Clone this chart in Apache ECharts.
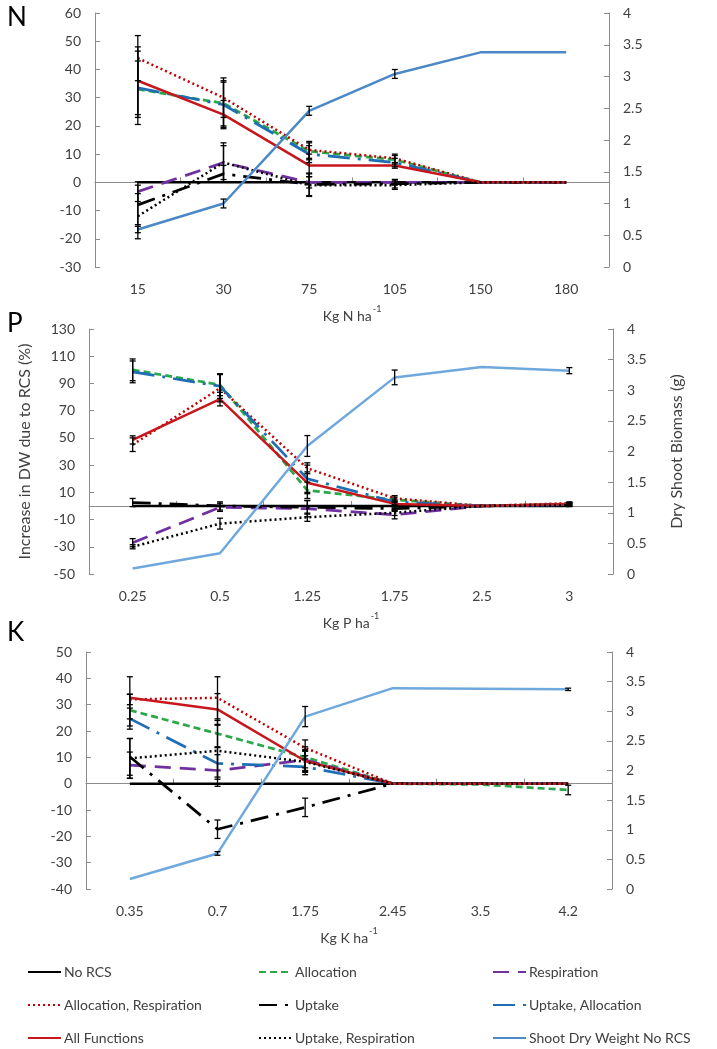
<!DOCTYPE html>
<html><head><meta charset="utf-8">
<script src="https://cdn.jsdelivr.net/npm/echarts@6/dist/echarts.min.js"></script>
<style>html,body{margin:0;padding:0;background:#fff}#c{width:717px;height:1049px}</style>
</head><body><div id="c"></div>
<script>
// ---------- categories ----------
const nCats = ['15','30','75','105','150','180'];
const pCats = ['0.25','0.5','1.25','1.75','2.5','3'];
const kCats = ['0.35','0.7','1.75','2.45','3.5','4.2'];

// ---------- N panel ----------
const nNoRcs      = [0, 0, 0, 0, 0, 0];
const nAlloc      = [33, 28, 11, 8, 0, 0];
const nAllocErr   = [10, 8, 3, 1.5, null, null];
const nResp       = [-3.3, 7, 0, 0, 0, 0];
const nRespErr    = [3.5, 7, 2, 1, null, null];
const nAllocResp  = [44, 30, 11.5, 8.5, 0, 0];
const nAllocRespErr = [8, 7, 3, 1.5, null, null];
const nUptake     = [-8, 3, -0.7, -0.5, 0, 0];
const nUptakeErr  = [7, 3, 4, 1.5, null, null];
const nUptAlloc   = [33.5, 27.5, 10, 7, 0, 0];
const nUptAllocErr = [13, 8, 3, 1.5, null, null];
const nAllFun     = [36, 24, 6, 6, 0, 0];
const nAllFunErr  = [12, 5, 4, 1, null, null];
const nUptResp    = [-12, 7, -1, -1, 0, 0];
const nUptRespErr = [8, 6, 4, 1.5, null, null];
const nShoot      = [0.59, 1.0, 2.46, 3.04, 3.38, 3.38];
const nShootErr   = [0.05, 0.07, 0.07, 0.07, null, null];

// ---------- P panel ----------
const pNoRcs      = [0, 0, 0, 0, 0, 0];
const pAlloc      = [100, 89, 11.5, 4.5, 0, 1.5];
const pAllocErr   = [8, 8, 6, 2, null, 1];
const pResp       = [-27, -1, -2, -6.5, 0, 1];
const pRespErr    = [3, 3, 6, 3, null, 1];
const pAllocResp  = [45, 86.5, 27.7, 5.6, 0, 2];
const pAllocRespErr = [5, 10, 4, 2, null, 1];
const pUptake     = [2.5, 0, -1, -2, 0, 1];
const pUptakeErr  = [3, 3, 5, 2, null, 1];
const pUptAlloc   = [98.5, 88, 20, 3, 0, 1];
const pUptAllocErr = [8, 9, 10, 2, null, 1];
const pAllFun     = [48.5, 78.5, 17, 1.5, 0, 1.5];
const pAllFunErr  = [3, 5, 8, 2, null, 1];
const pUptResp    = [-30, -13, -8.3, -5, 0, 0.5];
const pUptRespErr = [1.5, 4, 3, 2, null, 1];
const pShoot      = [0.09, 0.34, 2.09, 3.21, 3.38, 3.32];
const pShootErr   = [null, null, 0.17, 0.12, null, 0.05];

// ---------- K panel ----------
const kNoRcs      = [0, 0, 0, 0, 0, 0];
const kAlloc      = [27.9, 19, 10, 0, -0.3, -2.4];
const kAllocErr   = [6, 5, 4, null, null, 1.8];
const kResp       = [7, 5, 9, 0, 0, 0];
const kRespErr    = [5, 6, 4, null, null, null];
const kAllocResp  = [32, 32.6, 13.6, 0, 0, 0];
const kAllocRespErr = [2, 8, 3, null, null, null];
const kUptake     = [10.2, -17.3, -9, 0, 0, 0];
const kUptakeErr  = [7, 3.5, 3.5, null, null, null];
const kUptAlloc   = [24.7, 7.7, 6.4, 0, 0, 0];
const kUptAllocErr = [4, 6, 3, null, null, null];
const kAllFun     = [32.6, 28.2, 8.6, 0, 0, 0];
const kAllFunErr  = [8, 6, 4, null, null, null];
const kUptResp    = [9.6, 12.5, 8.3, 0, 0, 0];
const kUptRespErr = [7.5, 10, 4, null, null, null];
const kShoot      = [0.17, 0.6, 2.91, 3.39, 3.38, 3.37];
const kShootErr   = [null, 0.03, 0.17, null, null, 0.02];

// ---------- names / styles ----------
const NAMES = ['No RCS','Allocation','Respiration','Allocation, Respiration','Uptake',
  'Uptake, Allocation','All Functions','Uptake, Respiration','Shoot Dry Weight No RCS'];
const STY = {
  'No RCS': {color:'#000000', type:'solid', width:2.5},
  'Allocation': {color:'#2aa84a', type:[7,4], width:2.75},
  'Respiration': {color:'#7030a0', type:[16,9], width:2.75},
  'Allocation, Respiration': {color:'#c00000', type:[2,3], width:2.5},
  'Uptake': {color:'#000000', type:[18,8,3,8], width:2.75},
  'Uptake, Allocation': {color:'#1f6db5', type:[22,8,3,8], width:2.75},
  'All Functions': {color:'#c8161d', type:'solid', width:2.5},
  'Uptake, Respiration': {color:'#000000', type:[2,3], width:2.5},
  'Shoot Dry Weight No RCS': {color:'#6fa8dc', type:'solid', width:2.5}
};
const FONT = 'Lato, "Open Sans", sans-serif';
const TXT = '#404040';
const AX = '#8c8c8c';

const panels = [
  {cats:nCats, left:[nNoRcs,nAlloc,nResp,nAllocResp,nUptake,nUptAlloc,nAllFun,nUptResp],
   errs:[null,nAllocErr,nRespErr,nAllocRespErr,nUptakeErr,nUptAllocErr,nAllFunErr,nUptRespErr],
   shoot:nShoot, shootErr:nShootErr, shootColor:'#4a88c7'},
  {cats:pCats, left:[pNoRcs,pAlloc,pResp,pAllocResp,pUptake,pUptAlloc,pAllFun,pUptResp],
   errs:[null,pAllocErr,pRespErr,pAllocRespErr,pUptakeErr,pUptAllocErr,pAllFunErr,pUptRespErr],
   shoot:pShoot, shootErr:pShootErr, shootColor:'#6fa8dc'},
  {cats:kCats, left:[kNoRcs,kAlloc,kResp,kAllocResp,kUptake,kUptAlloc,kAllFun,kUptResp],
   errs:[null,kAllocErr,kRespErr,kAllocRespErr,kUptakeErr,kUptAllocErr,kAllFunErr,kUptRespErr],
   shoot:kShoot, shootErr:kShootErr, shootColor:'#6fa8dc'}
];

const grids = [
  {left:95, right:108, top:13, height:254},
  {left:89, right:104, top:329, height:245},
  {left:86, right:105, top:652, height:237}
];
const leftAx = [{min:-30,max:60,interval:10},{min:-50,max:130,interval:20},{min:-40,max:50,interval:10}];
const xTitles = ['N','P','K'];

function axisBase(){
  return {
    axisLine:{show:true, lineStyle:{color:AX, width:1}},
    axisTick:{show:true, inside:true, length:5, lineStyle:{color:AX}},
    axisLabel:{color:TXT, fontFamily:FONT, fontSize:14},
    splitLine:{show:false}
  };
}

const xAxis = [], yAxis = [], series = [];
panels.forEach((p, g) => {
  xAxis.push(Object.assign(axisBase(), {
    type:'category', gridIndex:g, data:p.cats, boundaryGap:true,
    axisTick:{show:true, inside:true, length:5, interval:0, lineStyle:{color:AX}},
    axisLabel:{color:TXT, fontFamily:FONT, fontSize:14, margin:15},
    name:'{b|Kg ' + xTitles[g] + ' ha}{s|-1}', nameLocation:'middle', nameGap:38,
    nameTextStyle:{rich:{b:{fontFamily:FONT, fontSize:14, color:TXT, lineHeight:18, verticalAlign:'bottom'},
                         s:{fontFamily:FONT, fontSize:9, color:TXT, lineHeight:18, verticalAlign:'top', padding:[0,0,0,1]}}}
  }));
  const la = Object.assign(axisBase(), {type:'value', gridIndex:g, position:'left',
    min:leftAx[g].min, max:leftAx[g].max, interval:leftAx[g].interval});
  la.axisLabel.margin = 14;
  if (g === 1) {
    la.name = 'Increase in DW due to RCS (%)';
    la.nameLocation = 'middle'; la.nameRotate = 90; la.nameGap = 56;
    la.nameTextStyle = {fontFamily:FONT, fontSize:16, color:TXT};
  }
  yAxis.push(la);
  const ra = Object.assign(axisBase(), {type:'value', gridIndex:g, position:'right',
    min:0, max:4, interval:0.5});
  ra.axisLabel.margin = 14;
  if (g === 1) {
    ra.name = 'Dry Shoot Biomass (g)';
    ra.nameLocation = 'middle'; ra.nameRotate = 90; ra.nameGap = 56;
    ra.nameTextStyle = {fontFamily:FONT, fontSize:16, color:TXT};
  }
  yAxis.push(ra);

  const errData = [];
  p.left.forEach((arr, i) => {
    const name = NAMES[i];
    const s = STY[name];
    series.push({type:'line', name:name, xAxisIndex:g, yAxisIndex:2*g, data:arr,
      symbol:'none', z: (i===0?3:4), lineStyle:{color:s.color, type:s.type, width:s.width},
      itemStyle:{color:s.color}});
    const e = p.errs[i];
    if (e) e.forEach((v, k) => { if (v != null) errData.push([k, arr[k]-v, arr[k]+v]); });
  });
  const sn = NAMES[8];
  series.push({type:'line', name:sn, xAxisIndex:g, yAxisIndex:2*g+1, data:p.shoot,
    symbol:'none', z:5, lineStyle:{color:p.shootColor, type:'solid', width:2.5},
    itemStyle:{color:STY[sn].color}});
  const shootErr = [];
  p.shootErr.forEach((v, k) => { if (v != null) shootErr.push([k, p.shoot[k]-v, p.shoot[k]+v]); });

  const render = function(params, api){
    const x = api.value(0);
    const a = api.coord([x, api.value(1)]);
    const b = api.coord([x, api.value(2)]);
    const w = 3;
    const st = {stroke:'#000', lineWidth:1.3};
    return {type:'group', children:[
      {type:'line', shape:{x1:a[0], y1:a[1], x2:b[0], y2:b[1]}, style:st},
      {type:'line', shape:{x1:a[0]-w, y1:a[1], x2:a[0]+w, y2:a[1]}, style:st},
      {type:'line', shape:{x1:b[0]-w, y1:b[1], x2:b[0]+w, y2:b[1]}, style:st}
    ]};
  };
  series.push({type:'custom', name:'errL'+g, xAxisIndex:g, yAxisIndex:2*g, data:errData,
    renderItem:render, encode:{x:0, y:[1,2]}, z:6, silent:true});
  series.push({type:'custom', name:'errR'+g, xAxisIndex:g, yAxisIndex:2*g+1, data:shootErr,
    renderItem:render, encode:{x:0, y:[1,2]}, z:6, silent:true});
});

// legend laid out as 3 rows x 3 columns
const legendRows = [
  ['No RCS','Allocation','Respiration'],
  ['Allocation, Respiration','Uptake','Uptake, Allocation'],
  ['All Functions','Uptake, Respiration','Shoot Dry Weight No RCS']
];
const legendColX = [27, 258, 492];
const legendRowY = [965, 998, 1031];
const legends = [];
legendRows.forEach((row, r) => row.forEach((nm, c) => {
  legends.push({orient:'horizontal', left:legendColX[c], top:legendRowY[r], padding:0,
    itemWidth:33, itemHeight:14, data:[nm], selectedMode:false, itemStyle:{opacity:0},
    textStyle:{fontFamily:FONT, fontSize:14, color:TXT, padding:[0,0,0,-2]}});
}));

const option = {
  animation:false,
  backgroundColor:'#ffffff',
  title:[
    {text:'N', left:2, top:0, textStyle:{fontFamily:FONT, fontSize:26, fontWeight:'normal', color:'#000'}},
    {text:'P', left:2, top:306, textStyle:{fontFamily:FONT, fontSize:26, fontWeight:'normal', color:'#000'}},
    {text:'K', left:2, top:615, textStyle:{fontFamily:FONT, fontSize:26, fontWeight:'normal', color:'#000'}}
  ],
  grid:grids,
  xAxis:xAxis,
  yAxis:yAxis,
  legend:legends,
  series:series
};
const chart = echarts.init(document.getElementById('c'), null, {renderer:'canvas'});
chart.setOption(option);
</script>
</body></html>
